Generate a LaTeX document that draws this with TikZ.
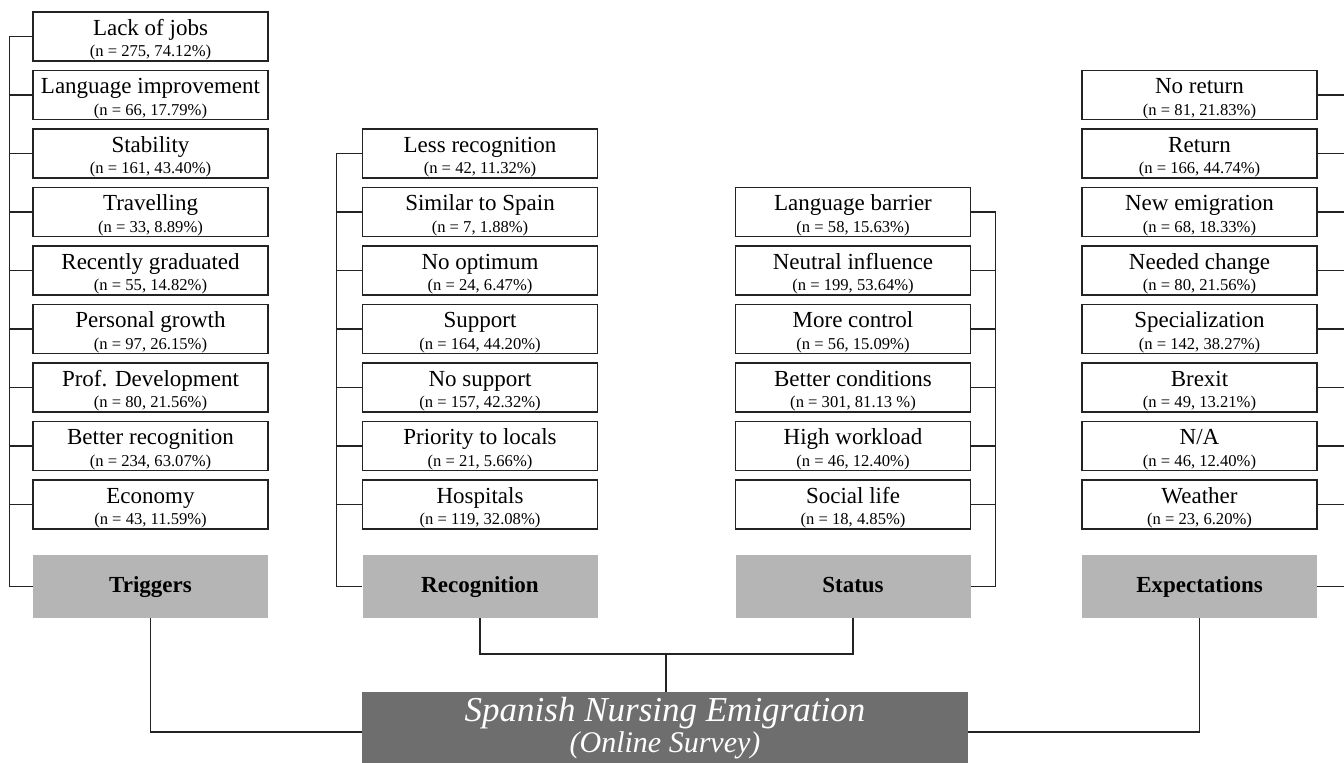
\documentclass[tikz,border=0pt]{standalone}
\usepackage{fontspec}
\setmainfont{Liberation Serif}
\definecolor{lightg}{RGB}{181,181,181}
\definecolor{darkg}{RGB}{110,110,110}
\definecolor{edge}{RGB}{35,35,35}
\newcommand\ttlfont{\fontsize{11.5}{13}\selectfont}
\newcommand\subfont{\fontsize{8.3}{9}\selectfont}
\tikzset{
  itemb/.style={draw=edge, line width=0.7pt, fill=white, minimum width=117.5pt, minimum height=24.5pt, inner sep=0pt},
  catb/.style={fill=lightg, minimum width=117.5pt, minimum height=31.5pt, inner sep=0pt, text height=8pt, text depth=2.4pt, font=\fontsize{11.5}{13}\selectfont\bfseries},
  mainb/.style={fill=darkg, minimum width=303pt, minimum height=40pt, inner sep=0pt},
  conn/.style={draw=edge, line width=0.65pt},
  ttl/.style={anchor=base, inner sep=0pt, font=\ttlfont},
  sbt/.style={anchor=base, inner sep=0pt, font=\subfont},
}
\newcommand\itembox[5]{%
  \node[itemb] (#1) at (#2,#3+24.5) {};
  \node[ttl] (#1t) at (#2,#3+23) {#4};
  \node[sbt] (#1s) at (#2,#3+44.5) {#5};
}
\begin{document}
\begin{tikzpicture}[x=0.5pt,y=-0.5pt]
\useasboundingbox (0,0) rectangle (1344,762);
\clip (0,0) rectangle (1344,762);
% column 1: Triggers
\itembox{a1}{150.5}{12}{Lack of jobs}{(n = 275, 74.12\%)}
\itembox{a2}{150.5}{70.5}{Language improvement}{(n = 66, 17.79\%)}
\itembox{a3}{150.5}{129}{Stability}{(n = 161, 43.40\%)}
\itembox{a4}{150.5}{187.5}{Travelling}{(n = 33, 8.89\%)}
\itembox{a5}{150.5}{246}{Recently graduated}{(n = 55, 14.82\%)}
\itembox{a6}{150.5}{304.5}{Personal growth}{(n = 97, 26.15\%)}
\itembox{a7}{150.5}{363}{Prof. Development}{(n = 80, 21.56\%)}
\itembox{a8}{150.5}{421.5}{Better recognition}{(n = 234, 63.07\%)}
\itembox{a9}{150.5}{480}{Economy}{(n = 43, 11.59\%)}
% column 2: Recognition
\itembox{b1}{480}{129}{Less recognition}{(n = 42, 11.32\%)}
\itembox{b2}{480}{187.5}{Similar to Spain}{(n = 7, 1.88\%)}
\itembox{b3}{480}{246}{No optimum}{(n = 24, 6.47\%)}
\itembox{b4}{480}{304.5}{Support}{(n = 164, 44.20\%)}
\itembox{b5}{480}{363}{No support}{(n = 157, 42.32\%)}
\itembox{b6}{480}{421.5}{Priority to locals}{(n = 21, 5.66\%)}
\itembox{b7}{480}{480}{Hospitals}{(n = 119, 32.08\%)}
% column 3: Status
\itembox{c1}{853}{187.5}{Language barrier}{(n = 58, 15.63\%)}
\itembox{c2}{853}{246}{Neutral influence}{(n = 199, 53.64\%)}
\itembox{c3}{853}{304.5}{More control}{(n = 56, 15.09\%)}
\itembox{c4}{853}{363}{Better conditions}{(n = 301, 81.13 \%)}
\itembox{c5}{853}{421.5}{High workload}{(n = 46, 12.40\%)}
\itembox{c6}{853}{480}{Social life}{(n = 18, 4.85\%)}
% column 4: Expectations
\itembox{d1}{1199.5}{70.5}{No return}{(n = 81, 21.83\%)}
\itembox{d2}{1199.5}{129}{Return}{(n = 166, 44.74\%)}
\itembox{d3}{1199.5}{187.5}{New emigration}{(n = 68, 18.33\%)}
\itembox{d4}{1199.5}{246}{Needed change}{(n = 80, 21.56\%)}
\itembox{d5}{1199.5}{304.5}{Specialization}{(n = 142, 38.27\%)}
\itembox{d6}{1199.5}{363}{Brexit}{(n = 49, 13.21\%)}
\itembox{d7}{1199.5}{421.5}{N/A}{(n = 46, 12.40\%)}
\itembox{d8}{1199.5}{480}{Weather}{(n = 23, 6.20\%)}
% category boxes
\node[catb] (trg) at (150.5,586.5) {Triggers};
\node[catb] (rec) at (480,586.5) {Recognition};
\node[catb] (sta) at (853,586.5) {Status};
\node[catb] (exq) at (1199.5,586.5) {Expectations};
% main box
\node[mainb] (main) at (665,732) {};
\node[anchor=base, inner sep=0pt, text=white, font=\fontsize{17.5}{19}\selectfont\itshape] (mainA) at (665,721) {Spanish Nursing Emigration};
\node[anchor=base, inner sep=0pt, text=white, font=\fontsize{15}{17}\selectfont\itshape] (mainB) at (665,752) {(Online Survey)};
% brackets: Triggers
\draw[conn] (a1.west) -- ++(-23,0) |- (trg.west);
\foreach \n in {a2,a3,a4,a5,a6,a7,a8,a9} \draw[conn] (\n.west) -- ++(-23,0);
% Recognition
\draw[conn] (b1.west) -- ++(-25,0) |- (rec.west);
\foreach \n in {b2,b3,b4,b5,b6,b7} \draw[conn] (\n.west) -- ++(-25,0);
% Status
\draw[conn] (c1.east) -- ++(24,0) |- (sta.east);
\foreach \n in {c2,c3,c4,c5,c6} \draw[conn] (\n.east) -- ++(24,0);
% Expectations
\foreach \n in {d1,d2,d3,d4,d5,d6,d7,d8,exq} \draw[conn] (\n.east) -- ++(30,0);
% to main
\coordinate (mid) at (666,654);
\draw[conn] (rec.south) |- (mid) -| (sta.south);
\draw[conn] (mid) -- (mid |- main.north);
\draw[conn] (trg.south) |- (main.west);
\draw[conn] (exq.south) |- (main.east);
\end{tikzpicture}
\end{document}
